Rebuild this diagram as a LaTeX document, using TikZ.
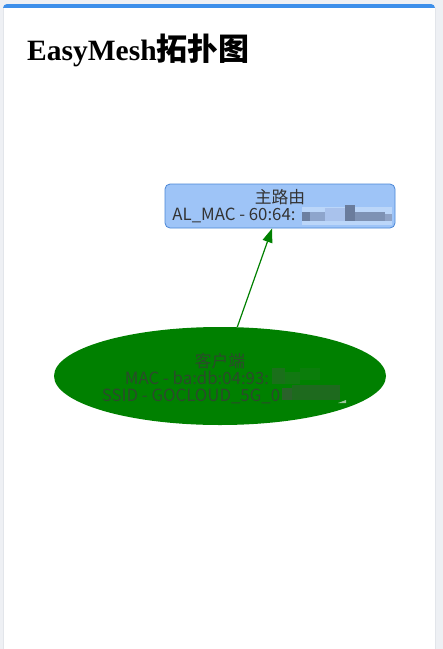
\documentclass[tikz,border=0pt]{standalone}
\usepackage{fontspec}
\usetikzlibrary{shapes.geometric, arrows.meta}
\newfontfamily\cjk{Noto Sans CJK SC}
\newfontfamily\titleserif{Liberation Serif}
\definecolor{pagegray}{HTML}{EEF0F4}
\definecolor{cardedge}{HTML}{E2E5EA}
\definecolor{stripeblue}{HTML}{3D8FEA}
\definecolor{routerfill}{HTML}{9EC4F7}
\definecolor{routeredge}{HTML}{4A86D6}
\definecolor{meshgreen}{HTML}{008000}
\definecolor{labelgray}{HTML}{333333}
\definecolor{greentext}{HTML}{2C4A2C}
%% Farben der verpixelten Stellen
\definecolor{pixA}{HTML}{6C7FA0}
\definecolor{pixB}{HTML}{8EA5CC}
\definecolor{pixC}{HTML}{A9C2EC}
\definecolor{pixD}{HTML}{6A7C9C}
\definecolor{pixE}{HTML}{7E92B4}
\definecolor{pixF}{HTML}{8FA3C6}
\definecolor{pixG}{HTML}{1A701A}
\definecolor{pixH}{HTML}{127812}
\definecolor{pixI}{HTML}{0B7D0B}
\definecolor{pixJ}{HTML}{1E6A1E}
\definecolor{pixK}{HTML}{2A622A}
\definecolor{pixL}{HTML}{9CC79C}
\newcommand\pixgap[1]{\rule{#1}{0pt}}
\tikzset{
	routerbox/.style={draw=routeredge, fill=routerfill, rounded corners=5pt, line width=0.8pt,
		minimum width=230pt, minimum height=44pt, inner sep=0pt, align=center,
		font=\cjk\fontsize{16.8}{17}\selectfont, text=labelgray},
	clientell/.style={ellipse, fill=meshgreen, minimum width=332pt, minimum height=98pt,
		inner ysep=0pt, inner xsep=-6pt, align=center, font=\cjk\fontsize{16.8}{17}\selectfont, text=greentext},
	link/.style={meshgreen, line width=1.2pt, -{Triangle[length=14pt, width=10pt]}}
}
\begin{document}
\begin{tikzpicture}[x=1pt, y=-1pt]
	\useasboundingbox (0,0) rectangle (443,649);
	%% Seite und Karte
	\fill[pagegray] (0,0) rectangle (443,649);
	\fill[stripeblue, rounded corners=4pt] (3,4) rectangle (435,24);
	\fill[white] (3,8) rectangle (435,649);
	\draw[cardedge] (3,8) -- (3,649);
	\draw[cardedge] (435,8) -- (435,649);
	\node[anchor=base west, inner sep=0pt] (title) at (27,60)
		{\fontsize{29.5}{32}\selectfont\titleserif\bfseries EasyMesh\cjk\bfseries\fontsize{31}{32}\selectfont 拓扑图};
	%%%%%%%%%%%%%%%%

	%% Knoten
	\node[routerbox] (router) at (280,206) {主路由\\AL\_MAC - 60:64:\pixgap{92pt}};
	\node[clientell] (client) at (220,376) {\rule{0pt}{20pt}客户端\\MAC - ba:db:04:93:\pixgap{46pt}\\SSID - GOCLOUD\_5G\_0\pixgap{58pt}};
	\draw[link] (client) -- (router);
	%%%%%%%%%%%%%%%%

	%% verpixelte Stellen
	\fill[routerfill!70!white] (302,207) rectangle (392,225);
	\fill[pixA] (302,212) rectangle (310,221);
	\fill[pixB] (310,212) rectangle (325,221);
	\fill[pixC] (325,208) rectangle (345,221);
	\fill[pixD] (345,205) rectangle (355,221);
	\fill[pixE] (355,212) rectangle (385,221);
	\fill[pixF] (385,214) rectangle (392,221);
	\fill[pixG] (272,368) rectangle (285,384);
	\fill[pixH] (285,372) rectangle (300,384);
	\fill[pixI] (300,368) rectangle (320,380);
	\fill[pixJ] (292,385) rectangle (340,400);
	\fill[pixK] (282,388) rectangle (292,400);
	\fill[pixL] (338,403) -- (346,400) -- (346,403) -- cycle;
\end{tikzpicture}
\end{document}
